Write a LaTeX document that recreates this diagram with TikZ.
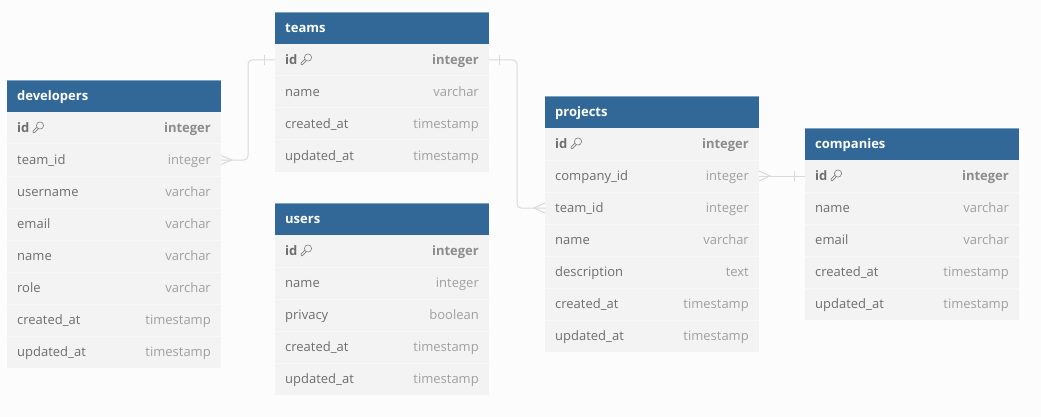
\documentclass[tikz,border=0pt]{standalone}
\usepackage{fontspec}
\setmainfont{Open Sans}
\definecolor{pagebg}{HTML}{FCFCFC}
\definecolor{headblue}{HTML}{316897}
\definecolor{headedge}{HTML}{7FA3C2}
\definecolor{rowbg}{HTML}{F3F3F4}
\definecolor{rowline}{HTML}{F8F8F8}
\definecolor{nametext}{HTML}{6E6E6E}
\definecolor{typetext}{HTML}{A0A0A0}
\definecolor{typebold}{HTML}{8C8C8C}
\definecolor{linkline}{HTML}{DADADA}
\definecolor{keyline}{HTML}{808080}
\tikzset{
  x=1pt,y=-1pt,
  rowbox/.style={rectangle,fill=rowbg,minimum width=214pt,minimum height=32pt,inner sep=0pt,outer sep=0pt},
  headbox/.style={rowbox,fill=headblue},
  headtext/.style={anchor=base west,inner sep=0pt,text=white,font=\fontsize{13}{15}\selectfont\bfseries},
  nametxt/.style={anchor=base west,inner sep=0pt,text=nametext,font=\fontsize{13}{15}\selectfont},
  typetxt/.style={anchor=base east,inner sep=0pt,text=typetext,font=\fontsize{13}{15}\selectfont},
  idtxt/.style={nametxt,font=\fontsize{13}{15}\selectfont\bfseries},
  idtype/.style={typetxt,text=typebold,font=\fontsize{13}{15}\selectfont\bfseries},
  link/.style={draw=linkline,line width=1pt,rounded corners=4pt},
  endmark/.style={draw=linkline,line width=1pt},
  keyicon/.style={draw=keyline,line width=.65pt,line join=round},
}
\newcommand{\ertable}[5]{%
  % #1 name, #2 left, #3 top, #4 title, #5 rows
  \node[headbox,anchor=north west] (#1-head) at (#2,#3) {};
  \draw[headedge,line width=.6pt] (#1-head.north west) -- (#1-head.north east);
  \draw[headedge,line width=.6pt] (#1-head.south west) -- (#1-head.south east);
  \node[headtext] (#1-title) at ([xshift=10pt,yshift=-4.5pt]#1-head.west) {#4};
  \foreach \lab/\typ [count=\i] in {#5} {
    \pgfmathtruncatemacro{\rowtop}{#3+32*\i}
    \node[rowbox,anchor=north west] (#1-\i) at (#2,\rowtop) {};
    \ifnum\i>1 \draw[rowline,line width=1pt] (#1-\i.north west) -- (#1-\i.north east);\fi
    \ifnum\i=1
      \node[idtxt] (#1-\i-name) at ([xshift=10pt,yshift=-4.5pt]#1-\i.west) {\lab};
      \node[idtype] (#1-\i-type) at ([xshift=-10pt,yshift=-4.5pt]#1-\i.east) {\typ};
      \begin{scope}[shift={(#1-\i.west)}]
        \draw[keyicon] (33,-2.5) circle[radius=3.6pt];
        \draw[keyicon] (29.9,-0.8) -- (26,3.1) -- (26.3,4.8) -- (27.6,4.6) -- (31.3,.7);
      \end{scope}
    \else
      \node[nametxt] (#1-\i-name) at ([xshift=10pt,yshift=-4.5pt]#1-\i.west) {\lab};
      \node[typetxt] (#1-\i-type) at ([xshift=-10pt,yshift=-4.5pt]#1-\i.east) {\typ};
    \fi
  }%
}
\begin{document}
\begin{tikzpicture}
\fill[pagebg] (0,0) rectangle (1041,417);
\useasboundingbox (0,0) rectangle (1041,417);

\ertable{developers}{7}{80}{developers}{id/integer,team\_id/integer,username/varchar,email/varchar,name/varchar,role/varchar,created\_at/timestamp,updated\_at/timestamp}
\ertable{teams}{275}{12}{teams}{id/integer,name/varchar,created\_at/timestamp,updated\_at/timestamp}
\ertable{users}{275}{203}{users}{id/integer,name/integer,privacy/boolean,created\_at/timestamp,updated\_at/timestamp}
\ertable{projects}{545}{96}{projects}{id/integer,company\_id/integer,team\_id/integer,name/varchar,description/text,created\_at/timestamp,updated\_at/timestamp}
\ertable{companies}{805}{128}{companies}{id/integer,name/varchar,email/varchar,created\_at/timestamp,updated\_at/timestamp}

% developers.team_id > teams.id
\draw[link] (developers-2.east) -| (248,60) -- (teams-1.west);
\draw[endmark] ([yshift=-4.5pt]developers-2.east) -- ([xshift=11pt]developers-2.east) -- ([yshift=4.5pt]developers-2.east);
\draw[endmark] ([xshift=-11pt,yshift=-5pt]teams-1.west) -- ([xshift=-11pt,yshift=5pt]teams-1.west);

% projects.team_id > teams.id
\draw[link] (teams-1.east) -| (517,208) -- (projects-3.west);
\draw[endmark] ([yshift=-5pt]projects-3.west) -- ([xshift=-11pt]projects-3.west) -- ([yshift=5pt]projects-3.west);
\draw[endmark] ([xshift=10pt,yshift=-5pt]teams-1.east) -- ([xshift=10pt,yshift=5pt]teams-1.east);

% projects.company_id > companies.id
\draw[link] (projects-2.east) -- (companies-1.west);
\draw[endmark] ([yshift=-5pt]projects-2.east) -- ([xshift=11pt]projects-2.east) -- ([yshift=5pt]projects-2.east);
\draw[endmark] ([xshift=-11pt,yshift=-5pt]companies-1.west) -- ([xshift=-11pt,yshift=5pt]companies-1.west);
\end{tikzpicture}
\end{document}
